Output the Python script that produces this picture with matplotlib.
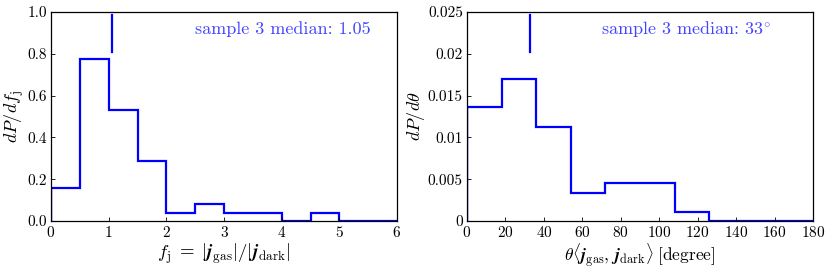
import numpy as np
import matplotlib
matplotlib.use('Agg')
import matplotlib.pyplot as plt

plt.rcParams['font.family'] = 'serif'
plt.rcParams['font.serif'] = ['cmr10', 'DejaVu Serif']
plt.rcParams['mathtext.fontset'] = 'cm'
plt.rcParams['axes.formatter.use_mathtext'] = True
plt.rcParams['xtick.direction'] = 'in'
plt.rcParams['ytick.direction'] = 'in'

# left panel: f_j histogram (bin width 0.5)
fj_edges = [0, 0.5, 1.0, 1.5, 2.0, 2.5, 3.0, 3.5, 4.0, 4.5, 5.0, 5.5, 6.0]
fj_density = [0.16, 0.775, 0.53, 0.285, 0.04, 0.08, 0.04, 0.04, 0.0, 0.04, 0.0, 0.0]
fj_median = 1.05

# right panel: angle histogram (bin width 18 deg)
theta_edges = [0, 18, 36, 54, 72, 90, 108, 126, 144, 162, 180]
theta_density = [0.0136, 0.0170, 0.0113, 0.0034, 0.0045, 0.0045, 0.0011, 0.0, 0.0, 0.0]
theta_median = 33

fig = plt.figure(figsize=(8.3, 2.69), dpi=100)
ax1 = fig.add_axes([51 / 830, 48 / 269, 346 / 830, 209 / 269])
ax2 = fig.add_axes([467 / 830, 48 / 269, 346 / 830, 209 / 269])


def draw_hist(ax, edges, dens):
    ax.stairs(dens, edges, baseline=0, fill=False, color='b', linewidth=1.6)
    ax.plot([edges[0], edges[0]], [0, dens[0]], color='b', linewidth=1.6)


draw_hist(ax1, fj_edges, fj_density)
ax1.plot([fj_median, fj_median], [0.81, 0.985], color='b', linewidth=1.6)
ax1.text(2.5, 0.92, 'sample 3 median: 1.05', color='#4444ff', fontsize=13,
         va='center', ha='left')
ax1.set_xlim(0, 6)
ax1.set_ylim(0, 1.0)
ax1.set_xticks(np.arange(0, 7, 1))
ax1.set_yticks(np.arange(0, 1.01, 0.2))
ax1.set_yticklabels(['0.0', '0.2', '0.4', '0.6', '0.8', '1.0'])
ax1.set_xlabel(r'$f_{\rm j}\;=\;|\boldsymbol{j}_{\rm gas}|/|\boldsymbol{j}_{\rm dark}|$',
               fontsize=13.5, labelpad=1)
ax1.set_ylabel(r'$dP/df_{\rm j}$', fontsize=13)
ax1.yaxis.set_label_coords(-0.072, 0.5)

draw_hist(ax2, theta_edges, theta_density)
ax2.plot([theta_median, theta_median], [0.0202, 0.0246], color='b', linewidth=1.6)
ax2.text(69.7, 0.023, r'sample 3 median: 33$^{\circ}$', color='#4444ff',
         fontsize=13, va='center', ha='left')
ax2.set_xlim(0, 180)
ax2.set_ylim(0, 0.025)
ax2.set_xticks(np.arange(0, 181, 20))
ax2.set_yticks([0, 0.005, 0.01, 0.015, 0.02, 0.025])
ax2.set_yticklabels(['0', '0.005', '0.01', '0.015', '0.02', '0.025'])
ax2.set_xlabel(r'$\theta\langle\boldsymbol{j}_{\rm gas},\,\boldsymbol{j}_{\rm dark}\rangle\;[{\rm degree}]$',
               fontsize=12.5, labelpad=1)
ax2.set_ylabel(r'$dP/d\theta$', fontsize=13)
ax2.yaxis.set_label_coords(-0.115, 0.5)

for ax in (ax1, ax2):
    ax.tick_params(labelsize=11, length=3, width=0.6, pad=3)
    for s in ax.spines.values():
        s.set_linewidth(0.9)

fig.savefig('out.png', dpi=100)
